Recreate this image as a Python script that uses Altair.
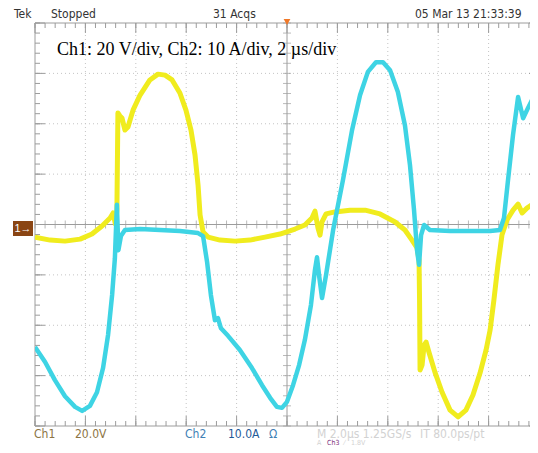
import altair as alt
import pandas as pd

# ---------------- data ----------------
# Ch1 (yellow, voltage): time in µs relative to trigger, volts
ch1_t = [-10.00, -9.40, -8.81, -8.21, -7.74, -7.34, -7.02, -6.90, -6.81, -6.75,
         -6.71, -6.63, -6.55, -6.43, -6.31, -6.11, -5.83, -5.44, -5.12, -4.84,
         -4.56, -4.25, -4.01, -3.81, -3.65, -3.53, -3.45, -3.33, -3.13, -2.66,
         -2.06, -1.47, -0.87, -0.28, 0.32, 0.71, 0.99, 1.11, 1.23, 1.31,
         1.39, 1.55, 1.90, 2.50, 3.10, 3.69, 4.29, 4.68, 4.96, 5.16,
         5.24, 5.26, 5.28, 5.36, 5.44, 5.52, 5.63, 5.87, 6.15, 6.47,
         6.79, 7.10, 7.38, 7.66, 7.90, 8.06, 8.21, 8.37, 8.53, 8.73,
         8.97, 9.17, 9.33, 9.52, 9.76, 9.96]
ch1_v = [-3.4, -4.6, -5.0, -4.2, -2.2, 1.0, 4.2, 6.2, 1.8, 7.3,
         45.9, 44.7, 43.9, 39.1, 40.3, 47.0, 53.0, 59.0, 61.3, 60.9,
         59.0, 53.8, 47.0, 39.1, 29.2, 17.3, 5.4, -1.4, -3.4, -4.6,
         -5.0, -4.6, -3.4, -2.2, -0.2, 1.4, 4.2, 6.9, 0.2, -2.6,
         2.6, 5.8, 6.6, 7.3, 7.3, 5.8, 2.6, -0.6, -4.6, -7.7,
         -12.5, -28.4, -56.2, -54.2, -46.3, -45.1, -49.0, -57.0, -64.9, -72.1,
         -74.8, -72.1, -66.1, -57.4, -48.2, -40.3, -28.4, -14.5, -2.6, 3.4,
         7.3, 9.7, 6.2, 8.1, 9.7, 11.3]

# Ch2 (cyan, current): time in µs relative to trigger, amperes
ch2_t = [-10.00, -9.60, -9.21, -8.81, -8.41, -8.13, -7.82, -7.54, -7.30, -7.10,
         -6.94, -6.83, -6.75, -6.69, -6.59, -6.43, -5.83, -5.04, -4.25, -3.53,
         -3.33, -3.17, -3.02, -2.86, -2.74, -2.62, -2.34, -1.87, -1.39, -0.99,
         -0.67, -0.40, -0.20, 0.00, 0.24, 0.48, 0.71, 0.95, 1.11, 1.19,
         1.27, 1.39, 1.55, 1.83, 2.22, 2.58, 2.90, 3.21, 3.53, 3.81,
         4.09, 4.40, 4.68, 4.88, 5.04, 5.16, 5.24, 5.32, 5.44, 5.67,
         6.47, 7.26, 8.06, 8.45, 8.61, 8.77, 8.97, 9.17, 9.37, 9.56,
         9.76, 9.96]
ch2_i = [-23.0, -26.0, -29.6, -32.8, -34.9, -35.7, -34.7, -32.0, -27.2, -20.6,
         -12.7, -5.4, 5.2, -3.8, -1.0, 0.2, 0.4, 0.2, 0.0, -0.4,
         -1.0, -6.2, -12.7, -17.7, -17.3, -19.3, -20.8, -23.6, -27.2, -30.6,
         -33.1, -34.9, -35.1, -33.9, -30.6, -26.6, -21.6, -14.7, -7.7, -5.2,
         -8.7, -13.3, -8.7, 0.2, 10.1, 20.0, 27.0, 31.6, 33.5, 33.5,
         31.9, 27.6, 21.0, 13.1, 4.2, -3.8, -6.7, -0.8, 1.2, 0.2,
         0.0, 0.0, 0.0, 0.2, 2.6, 10.1, 19.1, 26.6, 22.4, 24.4,
         26.4, 28.4]

V_PER_DIV = 20.0
A_PER_DIV = 10.0
US_PER_DIV = 2.0
CH1_OFFSET_DIV = -0.08
CH2_OFFSET_DIV = -0.13

header_labels = ["Tek", "Stopped", "31 Acqs", "05 Mar 13 21:33:39"]
note_text = "Ch1: 20 V/div, Ch2: 10 A/div, 2 µs/div"

# ---------------- layout ----------------
W, H = 495, 403
DIV_PX = 50.4
XMAX = -5 * US_PER_DIV + W / DIV_PX * US_PER_DIV

xs = alt.Scale(domain=[-5 * US_PER_DIV, XMAX], nice=False, zero=False)
ys = alt.Scale(domain=[-4, 4], nice=False, zero=False)


def X(field):
    return alt.X(field, type="quantitative", scale=xs, axis=None)


def Y(field):
    return alt.Y(field, type="quantitative", scale=ys, axis=None)


def XD(v):
    return alt.XDatum(v, type="quantitative", scale=xs, axis=None)


def YD(v):
    return alt.YDatum(v, type="quantitative", scale=ys, axis=None)


df1 = pd.DataFrame({"t": ch1_t,
                    "y": [v / V_PER_DIV + CH1_OFFSET_DIV for v in ch1_v],
                    "o": list(range(len(ch1_t)))})
df2 = pd.DataFrame({"t": ch2_t,
                    "y": [a / A_PER_DIV + CH2_OFFSET_DIV for a in ch2_i],
                    "o": list(range(len(ch2_t)))})

# graticule positions
vgrid = pd.DataFrame({"t": [k * US_PER_DIV for k in (-4, -3, -2, -1, 1, 2, 3, 4)]})
hgrid = pd.DataFrame({"d": [-3, -2, -1, 1, 2, 3]})
xminor = pd.DataFrame({"t": [-10 + 0.4 * k for k in range(51)]})
xmajor = pd.DataFrame({"t": [-10 + 2.0 * k for k in range(11)]})
yminor = pd.DataFrame({"d": [-4 + 0.2 * k for k in range(41)]})
ymajor = pd.DataFrame({"d": [-4 + 1.0 * k for k in range(9)]})

FRAME = "#9c9c9c"
GRID = "#c4c4c4"

layers = []
layers.append(alt.Chart(vgrid).mark_rule(color=GRID, strokeDash=[1, 3], strokeWidth=1)
              .encode(x=X("t")))
layers.append(alt.Chart(hgrid).mark_rule(color=GRID, strokeDash=[1, 3], strokeWidth=1)
              .encode(y=Y("d")))
# center crosshair
layers.append(alt.Chart().mark_rule(color=FRAME, strokeWidth=1).encode(x=XD(0)))
layers.append(alt.Chart().mark_rule(color=FRAME, strokeWidth=1).encode(y=YD(0)))
layers.append(alt.Chart(xminor).mark_tick(color=FRAME, orient="vertical", size=8, thickness=1)
              .encode(x=X("t"), y=YD(0)))
layers.append(alt.Chart(yminor).mark_tick(color=FRAME, orient="horizontal", size=8, thickness=1)
              .encode(y=Y("d"), x=XD(0)))
# frame
layers.append(alt.Chart().mark_rule(color=FRAME, strokeWidth=1).encode(y=YD(4)))
layers.append(alt.Chart().mark_rule(color=FRAME, strokeWidth=1).encode(y=YD(-4)))
layers.append(alt.Chart().mark_rule(color=FRAME, strokeWidth=1).encode(x=XD(-10)))
# frame ticks
layers.append(alt.Chart(xminor).mark_rule(color=FRAME).encode(x=X("t"), y=alt.value(0), y2=alt.value(5)))
layers.append(alt.Chart(xmajor).mark_rule(color=FRAME).encode(x=X("t"), y=alt.value(0), y2=alt.value(10)))
layers.append(alt.Chart(xminor).mark_rule(color=FRAME).encode(x=X("t"), y=alt.value(H), y2=alt.value(H - 5)))
layers.append(alt.Chart(xmajor).mark_rule(color=FRAME).encode(x=X("t"), y=alt.value(H), y2=alt.value(H - 10)))
layers.append(alt.Chart(yminor).mark_rule(color=FRAME).encode(y=Y("d"), x=alt.value(0), x2=alt.value(5)))
layers.append(alt.Chart(ymajor).mark_rule(color=FRAME).encode(y=Y("d"), x=alt.value(0), x2=alt.value(10)))
# right-edge ticks (edge itself lies just past the visible area)
layers.append(alt.Chart(ymajor).mark_rule(color=FRAME).encode(y=Y("d"), x=alt.value(W - 1), x2=alt.value(W)))

# traces
layers.append(alt.Chart(df1).mark_line(color="#f0ec1e", strokeWidth=5, strokeJoin="round", clip=True)
              .encode(x=X("t"), y=Y("y"), order="o:Q"))
layers.append(alt.Chart(df2).mark_line(color="#3ed4e4", strokeWidth=4.5, strokeJoin="round", clip=True)
              .encode(x=X("t"), y=Y("y"), order="o:Q"))

# trigger marker
layers.append(alt.Chart().mark_point(shape="triangle-down", filled=True, size=45,
                                     color="#f07828", opacity=1)
              .encode(x=XD(0), y=alt.value(-1)))

# channel 1 ground marker
layers.append(alt.Chart().mark_rect(color="#8a4513")
              .encode(x=alt.value(-22), x2=alt.value(-2), y=alt.value(198), y2=alt.value(213)))
layers.append(alt.Chart().mark_text(text="1→", color="white", fontSize=11, align="center",
                                    baseline="middle", font="Liberation Sans")
              .encode(x=alt.value(-12), y=alt.value(205.5)))

NARROW = "Liberation Sans Narrow, DejaVu Sans Condensed, Liberation Sans, sans-serif"


def label(txt, x, y, color, size=12):
    return (alt.Chart().mark_text(text=txt, color=color, fontSize=size, align="left",
                                  baseline="alphabetic", font=NARROW)
            .encode(x=alt.value(x), y=alt.value(y)))


hx = [-21, 16, 178, 380]
for txt, x in zip(header_labels, hx):
    layers.append(label(txt, x, -5, "#333333"))

ROW1, ROW2 = 415, 421.5
layers.append(label("Ch1", -1, ROW1, "#8c7444"))
layers.append(label("20.0V", 40, ROW1, "#8c7444"))
layers.append(label("Ch2", 150, ROW1, "#3f7fb5"))
layers.append(label("10.0A", 193, ROW1, "#1f5a98"))
layers.append(label("Ω", 234, ROW1, "#3f7fb5"))
layers.append(label("M 2.0µs 1.25GS/s", 282, ROW1, "#d2d2d2"))
layers.append(label("IT 80.0ps/pt", 385, ROW1, "#d2d2d2"))
layers.append(label("A", 282, ROW2, "#d2d2d2", 7))
layers.append(label("Ch3", 292, ROW2, "#7a2a7a", 7))
layers.append(label("⁄", 309, ROW2, "#d2d2d2", 7))
layers.append(label("1.8V", 316, ROW2, "#d2d2d2", 7))

# annotation
layers.append(alt.Chart().mark_text(text=note_text, color="black", fontSize=18, align="left",
                                    baseline="alphabetic", font="Liberation Serif, Times New Roman, serif")
              .encode(x=alt.value(22), y=alt.value(32)))

chart = (alt.layer(*layers)
         .properties(width=W, height=H, autosize="none",
                     padding={"left": 27, "top": 15, "right": 0, "bottom": 19},
                     background="white")
         .configure_view(stroke="transparent"))

chart.save("out.html", embed_options={"renderer": "svg", "actions": False})
